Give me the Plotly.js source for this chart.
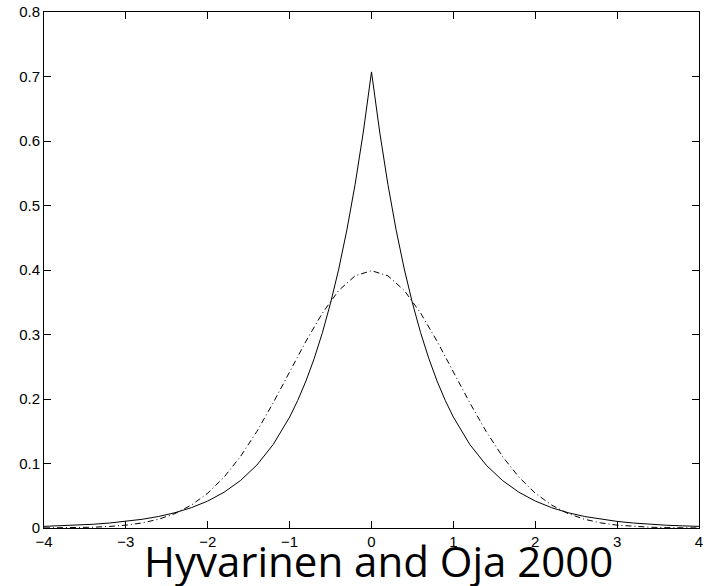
<!DOCTYPE html>
<html>
<head>
<meta charset="utf-8">
<script src="https://cdn.plot.ly/plotly-3.0.1.min.js"></script>
<style>html,body{margin:0;padding:0;background:#fff;}#chart{width:708px;height:586px;}</style>
</head>
<body>
<div id="chart"></div>
<script>
// Solid curve (sharp peak)
const xLaplace = [-4,-3.8,-3.6,-3.4,-3.2,-3,-2.8,-2.6,-2.4,-2.2,-2,-1.8,-1.6,-1.4,-1.2,-1,-0.9,-0.8,-0.7,-0.6,-0.5,-0.4,-0.3,-0.2,-0.1,0,0.1,0.2,0.3,0.4,0.5,0.6,0.7,0.8,0.9,1,1.2,1.4,1.6,1.8,2,2.2,2.4,2.6,2.8,3,3.2,3.4,3.6,3.8,4];
const yLaplace = [0.0025,0.0033,0.0043,0.0058,0.0077,0.0102,0.0135,0.0179,0.0237,0.0315,0.0418,0.0555,0.0736,0.0976,0.1296,0.1719,0.1980,0.2281,0.2628,0.3027,0.3487,0.4016,0.4626,0.5329,0.6139,0.7071,0.6139,0.5329,0.4626,0.4016,0.3487,0.3027,0.2628,0.2281,0.1980,0.1719,0.1296,0.0976,0.0736,0.0555,0.0418,0.0315,0.0237,0.0179,0.0135,0.0102,0.0077,0.0058,0.0043,0.0033,0.0025];
// Dash-dot curve (rounded peak)
const xGauss = [-4,-3.8,-3.6,-3.4,-3.2,-3,-2.8,-2.6,-2.4,-2.2,-2,-1.8,-1.6,-1.4,-1.2,-1,-0.8,-0.6,-0.4,-0.2,0,0.2,0.4,0.6,0.8,1,1.2,1.4,1.6,1.8,2,2.2,2.4,2.6,2.8,3,3.2,3.4,3.6,3.8,4];
const yGauss = [0.0001,0.0003,0.0006,0.0012,0.0024,0.0044,0.0079,0.0136,0.0224,0.0355,0.0540,0.0790,0.1109,0.1497,0.1942,0.2420,0.2897,0.3332,0.3683,0.3910,0.3989,0.3910,0.3683,0.3332,0.2897,0.2420,0.1942,0.1497,0.1109,0.0790,0.0540,0.0355,0.0224,0.0136,0.0079,0.0044,0.0024,0.0012,0.0006,0.0003,0.0001];
const xTicks = [-4,-3,-2,-1,0,1,2,3,4];
const yTicks = [0,0.1,0.2,0.3,0.4,0.5,0.6,0.7,0.8];
const titleText = "Hyvarinen and Oja 2000";

const traces = [
  {x: xGauss, y: yGauss, type: 'scatter', mode: 'lines',
   line: {color: '#000', width: 1, dash: '6px,3px,1px,3px'}, hoverinfo: 'skip'},
  {x: xLaplace, y: yLaplace, type: 'scatter', mode: 'lines',
   line: {color: '#000', width: 1}, hoverinfo: 'skip'}
];
const axisCommon = {
  showline: true, linecolor: '#000', linewidth: 1, mirror: 'ticks',
  ticks: 'inside', ticklen: 7, tickwidth: 1, tickcolor: '#000',
  showgrid: false, zeroline: false,
  tickfont: {family: 'Liberation Sans, Arial, sans-serif', size: 15, color: '#000'}
};
const layout = {
  width: 708, height: 586,
  margin: {l: 44, r: 9, t: 12, b: 58},
  paper_bgcolor: '#fff', plot_bgcolor: '#fff',
  showlegend: false,
  xaxis: Object.assign({}, axisCommon, {range: [-4, 4], tickvals: xTicks, ticktext: xTicks.map(v => v < 0 ? '\u2212' + Math.abs(v) : String(v))}),
  yaxis: Object.assign({}, axisCommon, {range: [0, 0.8], tickvals: yTicks, ticktext: yTicks.map(v => String(v))}),
  annotations: [{
    text: titleText, xref: 'paper', yref: 'paper', x: 0.51, y: -0.003,
    xanchor: 'center', yanchor: 'top', showarrow: false,
    font: {family: 'Open Sans, sans-serif', size: 42, color: '#000'}
  }]
};
Plotly.newPlot('chart', traces, layout, {staticPlot: true, displayModeBar: false});
</script>
</body>
</html>
